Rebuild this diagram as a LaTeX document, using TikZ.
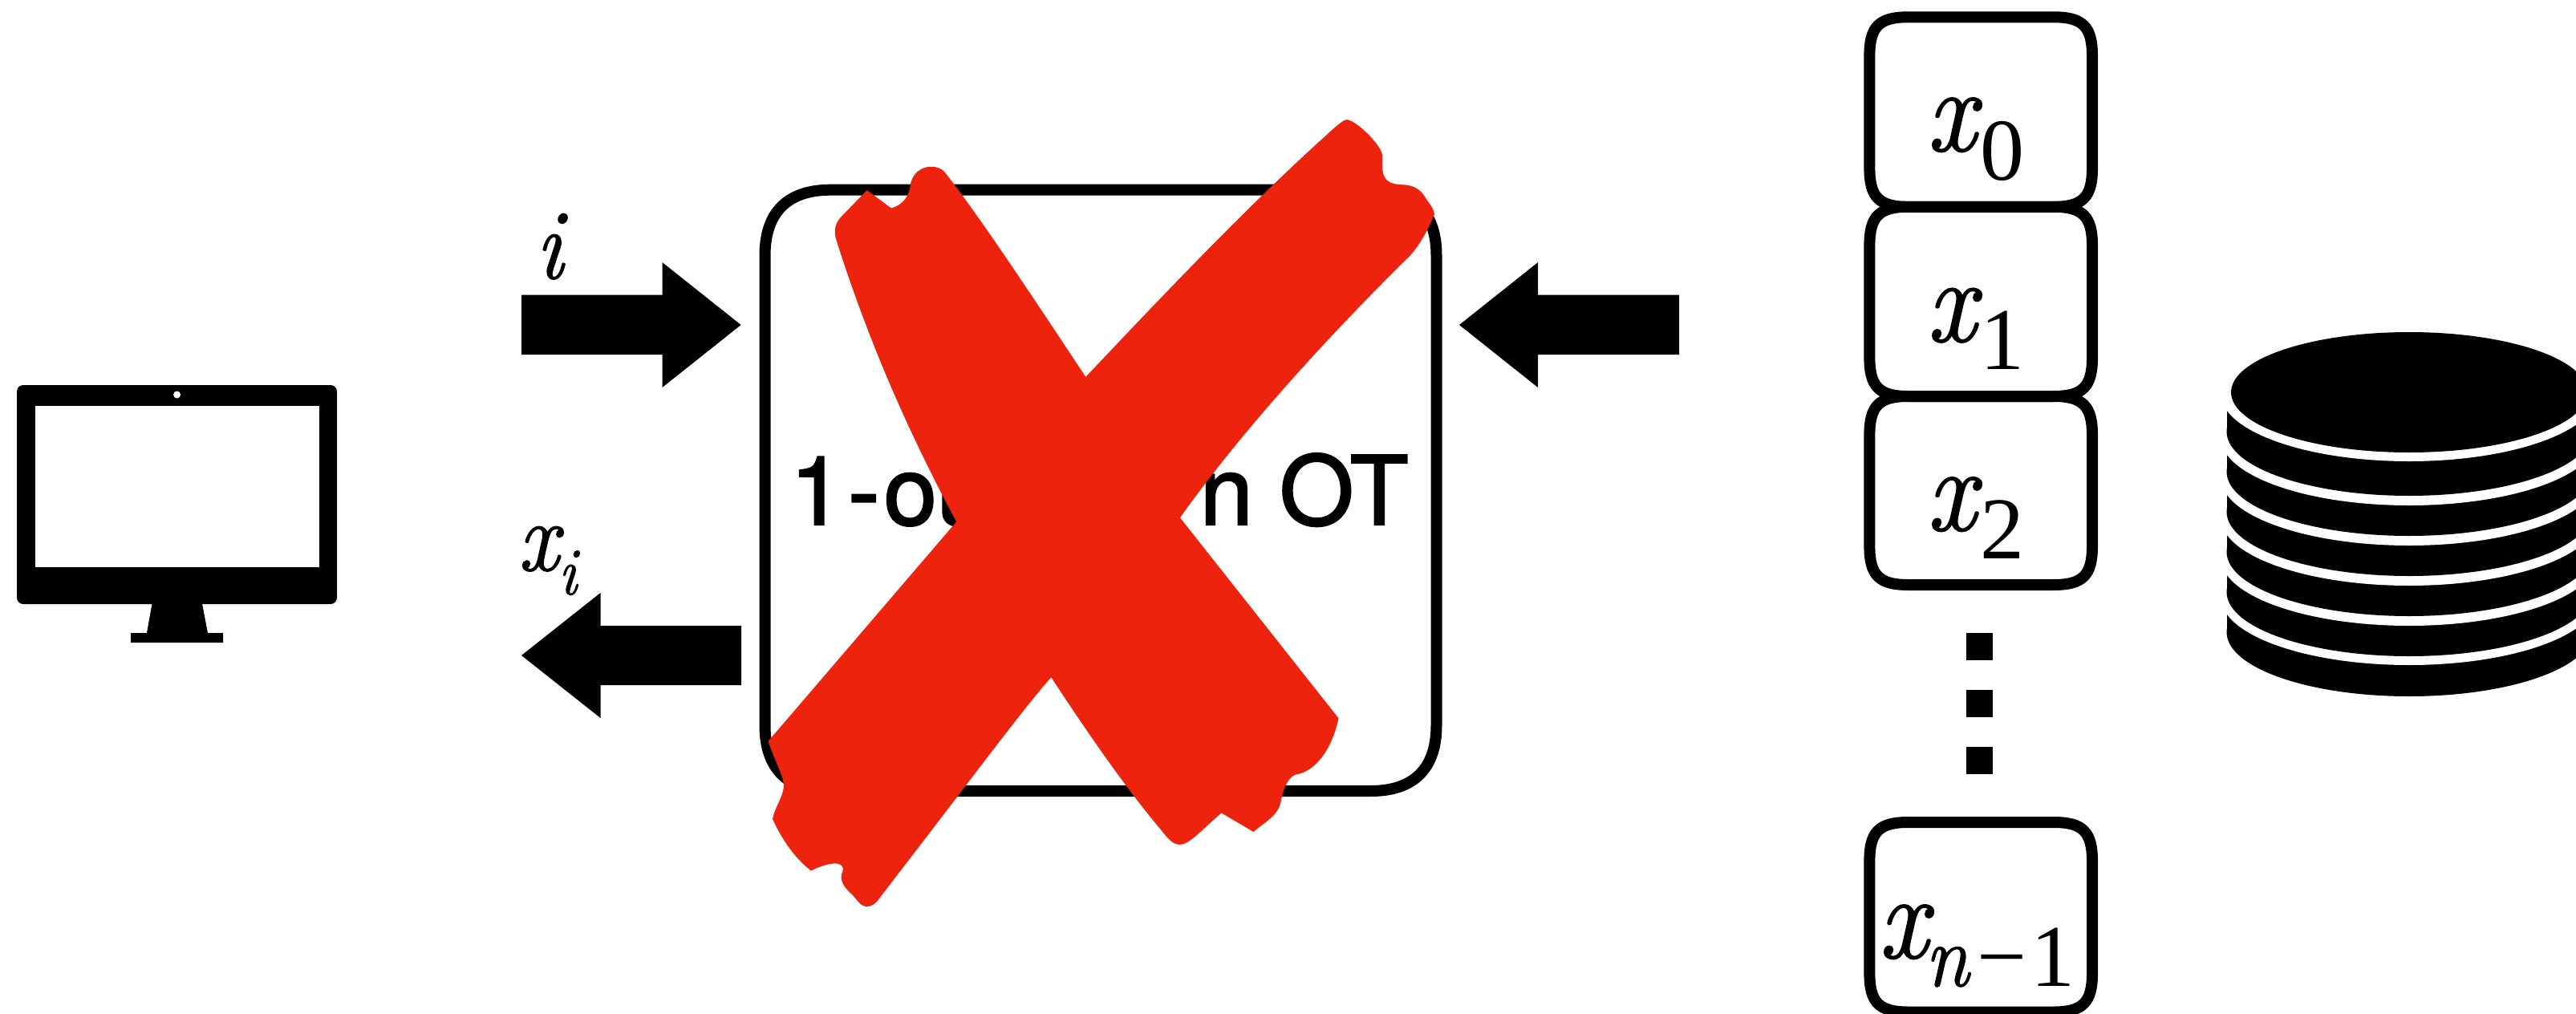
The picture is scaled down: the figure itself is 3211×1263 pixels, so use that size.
\documentclass[tikz,border=0pt]{standalone}
\usepackage{fontspec}
\setmainfont{Liberation Serif}
\newfontfamily\hvfont[FakeBold=2]{TeX Gyre Heros}
\newfontfamily\lmfont[FakeBold=1.2,FakeStretch=0.9]{Latin Modern Roman}
\definecolor{crossred}{RGB}{238,35,14}
\newcommand{\szmain}{\fontsize{150pt}{150pt}\selectfont}
\newcommand{\szsub}{\fontsize{110pt}{110pt}\selectfont}
\newcommand{\szlab}{\fontsize{124pt}{124pt}\selectfont}
\newcommand{\szlabsub}{\fontsize{84pt}{84pt}\selectfont}
\tikzset{
  squirclebox/.style={draw=black,line width=14pt},
  lab/.style={anchor=base west,inner sep=0pt,outer sep=0pt},
  solidblack/.style={fill=black,draw=none},
  bandgap/.style={fill=white,draw=none},
}
% rounded box with continuous corners: x1,y1,x2,y2,a,b
\newcommand{\sqbox}[6]{%
  \draw[squirclebox] (#1+#5,#2) -- (#3-#5,#2) .. controls (#3-#6,#2) and (#3,#2+#6) .. (#3,#2+#5)
    -- (#3,#4-#5) .. controls (#3,#4-#6) and (#3-#6,#4) .. (#3-#5,#4)
    -- (#1+#5,#4) .. controls (#1+#6,#4) and (#1,#4-#6) .. (#1,#4-#5)
    -- (#1,#2+#5) .. controls (#1,#2+#6) and (#1+#6,#2) .. (#1+#5,#2) -- cycle;
}
\newcommand{\band}[1]{%
  \fill[solidblack] (2775.5,#1-62) rectangle (3230.5,#1);
  \fill[solidblack] (3003,#1) ellipse [x radius=227.5pt,y radius=80pt];
}
\newcommand{\gap}[1]{%
  \fill[bandgap] (3003,#1) ellipse [x radius=235pt,y radius=85pt];
}
\begin{document}
\begin{tikzpicture}[x=1pt,y=-1pt]
\useasboundingbox (0,0) rectangle (3211,1263);
\clip (0,0) rectangle (3211,1263);
\fill[white] (0,0) rectangle (3211,1263);
% monitor
\fill[solidblack,rounded corners=8pt] (21,480) rectangle (420,753);
\fill[solidblack] (190,750) -- (251.5,750) -- (259,789) -- (278,789) -- (278,801) -- (163,801) -- (163,789) -- (183,789) -- cycle;
\fill[white] (44,505.5) rectangle (397.6,707);
\fill[white] (220.6,492) ellipse [x radius=4.5pt,y radius=4.5pt];
% arrows
\fill[solidblack] (650,367.5) -- (825.5,367.5) -- (825.5,327) -- (923.6,405) -- (825.5,483) -- (825.5,442) -- (650,442) -- cycle;
\fill[solidblack] (924,780) -- (748.5,780) -- (748.5,739) -- (650,817) -- (748.5,895) -- (748.5,854) -- (924,854) -- cycle;
\fill[solidblack] (2093,367.5) -- (1917,367.5) -- (1917,327) -- (1819,405) -- (1917,483) -- (1917,442) -- (2093,442) -- cycle;
% arrow labels
\node[lab] (li) at (668,347) {\lmfont\szlab\itshape i};
\node[lab] (lxi) at (646,711) {\lmfont\szlab\itshape x\raisebox{-30pt}{\szlabsub i}};
% central box
\sqbox{953.5}{236.7}{1790.5}{986}{82}{28}
\node[lab] (ot) at (985,654) {\hvfont\fontsize{119pt}{119pt}\selectfont 1\kern6pt-\kern5pt out-of-\kern50pt n OT};
% red cross
\begin{scope}[shift={(900,130)},x=0.60606pt,y=-0.63776pt]
\fill[crossred] (460,135)
  .. controls (530,220) and (640,378) .. (748,533)
  .. controls (910,370) and (1090,190) .. (1255,50)
  .. controls (1270,37) and (1280,30) .. (1285,30)
  .. controls (1305,32) and (1350,75) .. (1357,95)
  .. controls (1362,115) and (1345,155) .. (1395,157)
  .. controls (1420,157) and (1435,165) .. (1445,180)
  .. controls (1455,195) and (1465,205) .. (1465,215)
  .. controls (1450,250) and (1430,285) .. (1400,310)
  .. controls (1230,470) and (1060,650) .. (942,808)
  -- (1268,1200)
  .. controls (1255,1260) and (1220,1305) .. (1180,1310)
  .. controls (1165,1315) and (1155,1335) .. (1150,1360)
  .. controls (1145,1390) and (1120,1400) .. (1093,1422)
  -- (1027,1385)
  .. controls (985,1420) and (960,1447) .. (942,1447)
  .. controls (925,1447) and (915,1432) .. (900,1415)
  .. controls (830,1335) and (760,1240) .. (677,1120)
  .. controls (620,1180) and (500,1335) .. (325,1550)
  .. controls (315,1565) and (305,1568) .. (298,1568)
  .. controls (285,1568) and (278,1555) .. (268,1545)
  .. controls (250,1530) and (240,1515) .. (248,1500)
  .. controls (255,1480) and (225,1478) .. (183,1498)
  .. controls (145,1470) and (120,1430) .. (104,1397)
  .. controls (108,1375) and (128,1350) .. (127,1330)
  .. controls (125,1310) and (105,1275) .. (95,1245)
  -- (482,816)
  .. controls (400,670) and (310,490) .. (235,265)
  .. controls (228,245) and (235,230) .. (245,220)
  -- (298,168) -- (348,203)
  .. controls (370,198) and (385,180) .. (387,160)
  .. controls (390,135) and (410,122) .. (430,122)
  .. controls (445,122) and (455,128) .. (460,135)
  -- cycle;
\end{scope}
% cells
\sqbox{2330.4}{21.3}{2608}{257.8}{48}{12}
\sqbox{2330.4}{257.8}{2608}{494}{48}{12}
\sqbox{2330.4}{494}{2608}{729}{48}{12}
\sqbox{2330.4}{1025}{2608}{1261.5}{48}{12}
\node[lab] (l0) at (2402,188) {\lmfont\szmain\itshape x\kern6pt\raisebox{-36pt}{\rmfamily\upshape\szsub 0}};
\node[lab] (l1) at (2402,425.5) {\lmfont\szmain\itshape x\kern6pt\raisebox{-35pt}{\rmfamily\upshape\szsub 1}};
\node[lab] (l2) at (2402,661) {\lmfont\szmain\itshape x\kern6pt\raisebox{-35pt}{\rmfamily\upshape\szsub 2}};
\node[lab] (ln) at (2342,1194) {\lmfont\szmain\itshape x\kern-3pt\raisebox{-35pt}{\szsub n\kern10pt\rmfamily\upshape −\kern5pt 1}};
% dots
\fill[solidblack] (2451,789) rectangle (2484,823);
\fill[solidblack] (2451,860) rectangle (2484,894);
\fill[solidblack] (2451,931) rectangle (2484,965);
% database
\band{788} \gap{744}
\band{738} \gap{695}
\band{688} \gap{645}
\band{638} \gap{595}
\band{588} \gap{545}
\band{538} \gap{490}
\fill[solidblack] (3003,489) ellipse [x radius=222pt,y radius=75pt];
\end{tikzpicture}
\end{document}
